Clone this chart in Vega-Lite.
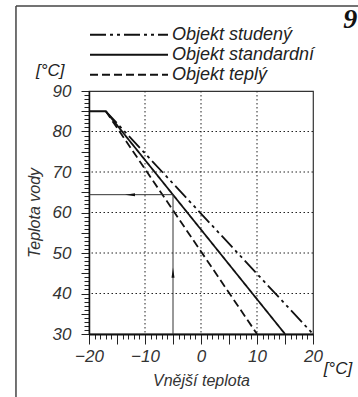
{
  "$schema": "https://vega.github.io/schema/vega-lite/v6.json",
  "width": 224,
  "height": 243,
  "autosize": {"type": "none"},
  "padding": {"left": 89, "top": 91, "right": 45, "bottom": 63},
  "background": "white",
  "config": {
    "view": {"stroke": "#333", "strokeWidth": 1.2},
    "font": "Liberation Sans",
    "text": {"font": "Liberation Sans", "fontStyle": "italic", "color": "#222"},
    "axis": {
      "grid": false,
      "labelExpr": "datum.value % 10 === 0 ? datum.label : ''",
      "labelFont": "Liberation Sans",
      "labelFontStyle": "italic",
      "labelFontSize": 17,
      "labelColor": "#333",
      "labelOverlap": false,
      "labelFlush": false,
      "tickColor": "#222",
      "tickWidth": 1,
      "domainColor": "#111",
      "titleFont": "Liberation Sans",
      "titleFontStyle": "italic",
      "titleFontWeight": "normal",
      "titleFontSize": 16,
      "titleColor": "#333"
    },
    "axisX": {
      "tickCount": 40,
      "tickSize": {"condition": {"test": "datum.value % 5 === 0", "value": 10}, "value": 5},
      "labelPadding": 4,
      "titlePadding": 8,
      "domainWidth": 2
    },
    "axisY": {
      "tickCount": 60,
      "tickSize": {"condition": {"test": "datum.value % 5 === 0", "value": 8}, "value": 5},
      "labelPadding": 10,
      "titlePadding": 10,
      "domainWidth": 1.5
    }
  },
  "layer": [
    {
      "data": {"values": [{"g": -10}, {"g": 0}, {"g": 10}]},
      "mark": {"type": "rule", "color": "#222", "strokeWidth": 1, "strokeDash": [1.5, 2.5]},
      "encoding": {"x": {"field": "g", "type": "quantitative"}}
    },
    {
      "data": {"values": [{"g": 40}, {"g": 50}, {"g": 60}, {"g": 70}, {"g": 80}]},
      "mark": {"type": "rule", "color": "#222", "strokeWidth": 1, "strokeDash": [1.5, 2.5]},
      "encoding": {"y": {"field": "g", "type": "quantitative"}}
    },
    {
      "data": {"values": [
        {"series": "Objekt standardní", "t": -20, "v": 85},
        {"series": "Objekt standardní", "t": -17, "v": 85},
        {"series": "Objekt standardní", "t": 15, "v": 30},
        {"series": "Objekt studený", "t": -17, "v": 85},
        {"series": "Objekt studený", "t": 20, "v": 30},
        {"series": "Objekt teplý", "t": -17, "v": 85},
        {"series": "Objekt teplý", "t": 10, "v": 30}
      ]},
      "mark": {"type": "line", "color": "#111", "strokeWidth": 1.8, "clip": false},
      "encoding": {
        "x": {
          "field": "t", "type": "quantitative",
          "title": "Vnější teplota",
          "scale": {"domain": [-20, 20], "nice": false, "zero": false}
        },
        "y": {
          "field": "v", "type": "quantitative",
          "title": "Teplota vody",
          "scale": {"domain": [30, 90], "nice": false, "zero": false}
        },
        "detail": {"field": "series"},
        "strokeDash": {
          "field": "series", "type": "nominal",
          "scale": {
            "domain": ["Objekt studený", "Objekt standardní", "Objekt teplý"],
            "range": [[16, 4, 3, 4, 3, 4], [1, 0], [8, 4]]
          },
          "legend": {
            "orient": "none",
            "legendX": 0,
            "legendY": -66,
            "title": null,
            "padding": 0,
            "symbolType": "stroke",
            "symbolSize": 6084,
            "symbolStrokeWidth": 2,
            "symbolStrokeColor": "#111",
            "symbolOffset": 0,
            "clipHeight": 19.5,
            "rowPadding": 0,
            "labelFont": "Liberation Sans",
            "labelFontStyle": "italic",
            "labelFontSize": 18,
            "labelColor": "#222",
            "labelOffset": 3,
            "labelLimit": 300
          }
        }
      }
    },
    {
      "data": {"values": [{}]},
      "mark": {"type": "rule", "color": "#333", "strokeWidth": 1, "clip": false},
      "encoding": {"x": {"datum": -5}, "y": {"datum": 30}, "y2": {"datum": 64.4}}
    },
    {
      "data": {"values": [{}]},
      "mark": {"type": "rule", "color": "#333", "strokeWidth": 1, "clip": false},
      "encoding": {"x": {"datum": -20}, "x2": {"datum": -5}, "y": {"datum": 64.4}}
    },
    {
      "data": {"values": [{}]},
      "mark": {"type": "point", "shape": "M0,-1L0.3,1L-0.3,1Z", "filled": true, "color": "#111", "size": 100, "opacity": 1, "clip": false},
      "encoding": {"x": {"datum": -5}, "y": {"datum": 45.1}}
    },
    {
      "data": {"values": [{}]},
      "mark": {"type": "point", "shape": "M-1,0L1,-0.3L1,0.3Z", "filled": true, "color": "#111", "size": 100, "opacity": 1, "clip": false},
      "encoding": {"x": {"datum": -12.68}, "y": {"datum": 64.4}}
    },
    {
      "data": {"values": [{}]},
      "mark": {"type": "rule", "color": "#444", "strokeWidth": 1.5, "clip": false},
      "encoding": {"x": {"datum": -33.04}, "x2": {"datum": 28.5}, "y": {"datum": 111}}
    },
    {
      "data": {"values": [{}]},
      "mark": {"type": "rule", "color": "#444", "strokeWidth": 1.5, "clip": false},
      "encoding": {"x": {"datum": -33.04}, "y": {"datum": 111}, "y2": {"datum": 13}}
    },
    {
      "data": {"values": [{}]},
      "mark": {"type": "text", "text": "[°C]", "align": "left", "baseline": "middle", "fontSize": 17, "clip": false},
      "encoding": {"x": {"datum": -29.46}, "y": {"datum": 94.9}}
    },
    {
      "data": {"values": [{}]},
      "mark": {"type": "text", "text": "[°C]", "align": "left", "baseline": "middle", "fontSize": 17, "clip": false},
      "encoding": {"x": {"datum": 21.9}, "y": {"datum": 21.4}}
    },
    {
      "data": {"values": [{}]},
      "mark": {"type": "text", "text": "9", "align": "left", "baseline": "middle", "font": "Liberation Serif", "fontWeight": "bold", "fontStyle": "italic", "fontSize": 28, "color": "#111", "clip": false},
      "encoding": {"x": {"datum": 25.4}, "y": {"datum": 107.5}}
    }
  ]
}
